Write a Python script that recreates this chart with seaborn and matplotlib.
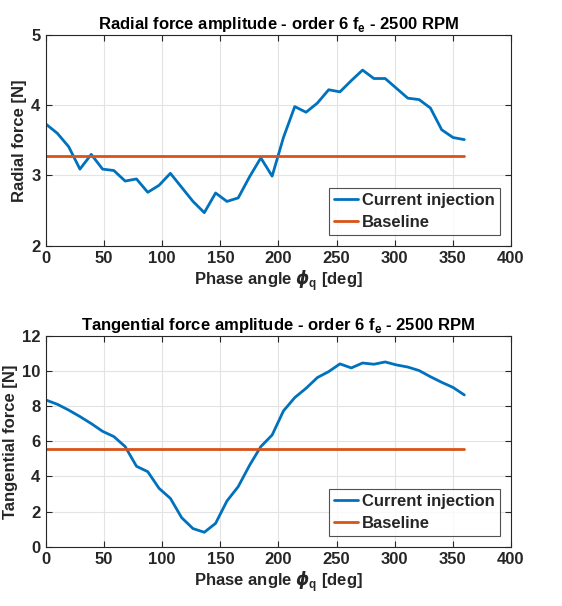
import numpy as np
import pandas as pd
import matplotlib
matplotlib.use("Agg")
import matplotlib.pyplot as plt
import seaborn as sns

# phase angle sweep (38 points, 0..360 deg)
phase = np.linspace(0, 360, 38)

radial = [3.73, 3.60, 3.41, 3.09, 3.30, 3.09, 3.07, 2.92, 2.95, 2.76,
          2.86, 3.03, 2.83, 2.63, 2.47, 2.75, 2.63, 2.68, 2.98, 3.25,
          2.99, 3.54, 3.98, 3.90, 4.03, 4.22, 4.19, 4.35, 4.50, 4.38,
          4.38, 4.24, 4.10, 4.08, 3.96, 3.65, 3.54, 3.51]
radial_base = 3.27

tangential = [8.35, 8.11, 7.78, 7.41, 7.01, 6.57, 6.27, 5.70, 4.58, 4.27,
              3.32, 2.75, 1.65, 1.03, 0.82, 1.33, 2.60, 3.42, 4.63, 5.70,
              6.36, 7.73, 8.49, 9.02, 9.63, 9.97, 10.41, 10.18, 10.46, 10.39,
              10.52, 10.35, 10.23, 10.03, 9.68, 9.36, 9.07, 8.64]
tangential_base = 5.58

titles = ["Radial force amplitude - order 6 f$_\\mathregular{e}$ - 2500 RPM",
          "Tangential force amplitude - order 6 f$_\\mathregular{e}$ - 2500 RPM"]
ylabels = ["Radial force [N]", "Tangential force [N]"]
ylims = [(2, 5), (0, 12)]
yticks = [[2, 3, 4, 5], [0, 2, 4, 6, 8, 10, 12]]

sns.set_style("whitegrid")
plt.rcParams['font.family'] = ['Liberation Sans', 'DejaVu Sans']
plt.rcParams['font.weight'] = 'bold'
plt.rcParams['mathtext.fontset'] = 'custom'
plt.rcParams['mathtext.rm'] = 'Liberation Sans:bold'
plt.rcParams['mathtext.it'] = 'DejaVu Sans:italic'
plt.rcParams['mathtext.bf'] = 'Liberation Sans:bold'

blue = "#0072BD"
orange = "#D95319"
dark = "#262626"
fs = 12

fig = plt.figure(figsize=(5.62, 6.06), dpi=100)
ax1 = fig.add_axes([0.0819, 0.5946, 0.827, 0.3477])
ax2 = fig.add_axes([0.0819, 0.0979, 0.827, 0.3477])

series = [(radial, radial_base), (tangential, tangential_base)]
for i, ax in enumerate([ax1, ax2]):
    vals, base = series[i]
    df = pd.DataFrame({"phase": phase, "value": vals})
    sns.lineplot(data=df, x="phase", y="value", ax=ax, color=blue, lw=2,
                 label="Current injection")
    dfb = pd.DataFrame({"phase": [0, 360], "value": [base, base]})
    sns.lineplot(data=dfb, x="phase", y="value", ax=ax, color=orange, lw=2,
                 label="Baseline")

    ax.set_xlim(0, 400)
    ax.set_ylim(*ylims[i])
    ax.set_xticks(range(0, 401, 50))
    ax.set_yticks(yticks[i])
    ax.set_facecolor("white")
    ax.grid(True, color="#e3e3e3", lw=0.8)
    for s in ax.spines.values():
        s.set_color(dark)
        s.set_linewidth(0.8)
    ax.tick_params(direction="in", length=4, width=0.8, colors=dark,
                   labelsize=fs, top=True, right=True, left=True, bottom=True,
                   labelcolor=dark, pad=4)
    for lab in ax.get_xticklabels() + ax.get_yticklabels():
        lab.set_fontweight("bold")
    ax.set_title(titles[i], fontsize=fs, fontweight="bold", color="black", pad=4)
    ax.set_xlabel("Phase angle $\\phi_\\mathbf{q}$ [deg]", fontsize=fs,
                  fontweight="bold", color=dark, labelpad=1)
    ax.set_ylabel(ylabels[i], fontsize=fs, fontweight="bold", color=dark,
                  labelpad=3)
    leg = ax.legend(loc="lower right", fontsize=fs, frameon=True, fancybox=False,
                    handlelength=1.45, handletextpad=0.25, borderpad=0.3,
                    labelspacing=0.4, borderaxespad=0.65)
    leg.get_frame().set_edgecolor(dark)
    leg.get_frame().set_linewidth(0.8)
    for t in leg.get_texts():
        t.set_fontweight("bold")

fig.savefig("out.png", dpi=100)
